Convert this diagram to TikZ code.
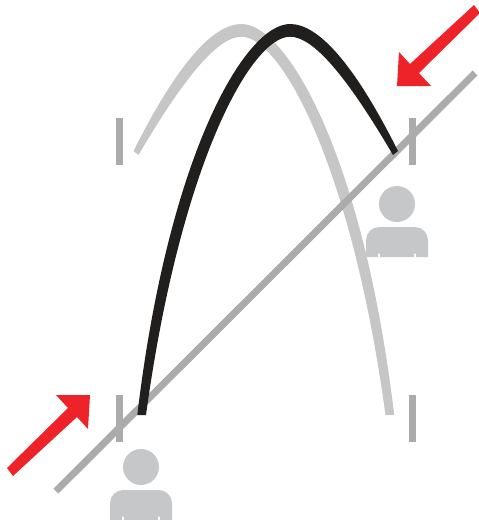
\documentclass[tikz,border=0pt]{standalone}
\usetikzlibrary{calc}
\definecolor{pathblack}{HTML}{211F1D}
\definecolor{pathgrey}{HTML}{C6C6C6}
\definecolor{slopegrey}{HTML}{ABABAB}
\definecolor{persongrey}{HTML}{C6C7C9}
\definecolor{arrowred}{HTML}{EE2229}
\newcommand{\flightpath}{%
  (137.3,415) .. controls (168.3,154.3) and (245.1,24) .. (290,24)
  .. controls (319,24) and (355,65.3) .. (398,151)
  -- (393,155) .. controls (346.7,76.1) and (313.3,36.7) .. (290,36.7)
  .. controls (251.4,36.7) and (180.5,162.8) .. (146,415) -- cycle}
\tikzset{
  flight-black/.style={fill=pathblack},
  flight-grey/.style={fill=pathgrey},
  slope/.style={draw=slopegrey,line width=7pt},
  tick/.style={draw=slopegrey,line width=7pt},
  person/.pic={
    \fill[persongrey] (0,0) circle (18);
    \fill[persongrey] (-31,53) -- (-31,36) .. controls (-31,29) and (-25,23) .. (-18,23) -- (18,23)
      .. controls (25,23) and (31,29) .. (31,36) -- (31,53)
      -- (19,53) -- (19,49.7) -- (17,49.7) -- (17,53) -- (-17,53) -- (-17,49.7) -- (-19,49.7) -- (-19,53) -- cycle;
  },
  warning/.pic={
    \fill[arrowred] (0,0) -- (-2,34) -- (-13,22) -- (-77,81) -- (-83,73) -- (-22,13) -- (-34,0) -- cycle;
  },
}
\begin{document}
\begin{tikzpicture}[x=1pt,y=-1pt]
  \useasboundingbox (0,0) rectangle (479,520);

  % grey path, mirrored
  \begin{scope}[xshift=531.5pt,xscale=-1]
    \fill[flight-grey] \flightpath;
  \end{scope}

  % slope and ticks
  \draw[slope] (56,491) -- (475,73);
  \draw[tick] (119.5,118) -- (119.5,165);
  \draw[tick] (412.5,118) -- (412.5,165);
  \draw[tick] (119.5,395) -- (119.5,442);
  \draw[tick] (412.5,395) -- (412.5,442);

  % black path
  \fill[flight-black] \flightpath;

  \pic at (397,204) {person};
  \pic at (141,467) {person};

  \pic at (90,395) {warning};
  \pic[rotate=180] at (397,86) {warning};
\end{tikzpicture}
\end{document}
